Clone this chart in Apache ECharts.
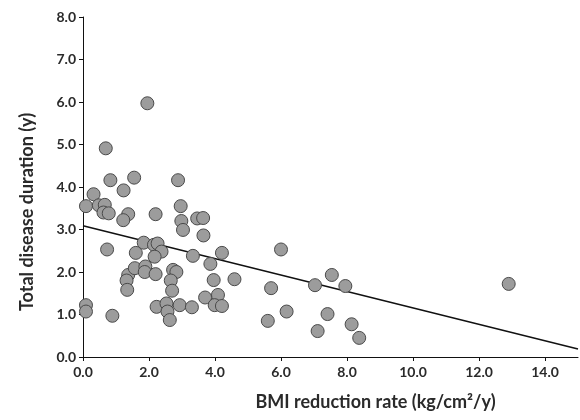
<!DOCTYPE html>
<html>
<head>
<meta charset="utf-8">
<script src="https://cdn.jsdelivr.net/npm/echarts@6/dist/echarts.min.js"></script>
<style>
html,body{margin:0;padding:0;background:#fff;}
#chart{width:580px;height:420px;}
</style>
</head>
<body>
<div id="chart"></div>
<script>
// BMI reduction rate (kg/cm²/y)
const bmiRate = [1.95,0.69,0.83,1.55,2.88,1.23,0.32,0.09,0.48,0.66,0.62,0.78,1.37,1.22,2.2,2.96,2.98,3.03,3.46,3.64,3.65,0.73,1.6,1.84,2.15,2.26,2.38,2.17,3.33,4.21,3.86,1.37,1.57,1.89,1.87,2.2,1.32,1.34,2.73,2.83,2.66,2.7,2.23,2.53,2.56,2.63,2.93,3.3,3.7,4.09,3.99,4.21,3.96,4.59,0.09,0.09,0.89,6.0,5.7,5.6,6.17,7.03,7.54,7.95,7.41,7.11,8.14,8.37,12.9];
// Total disease duration (y)
const duration = [5.97,4.91,4.16,4.22,4.16,3.92,3.83,3.55,3.57,3.58,3.4,3.38,3.36,3.22,3.36,3.55,3.2,2.99,3.26,3.27,2.86,2.53,2.45,2.69,2.64,2.67,2.48,2.36,2.38,2.45,2.19,1.93,2.09,2.13,2.0,1.95,1.8,1.58,2.05,2.0,1.8,1.56,1.18,1.26,1.07,0.87,1.22,1.17,1.4,1.46,1.22,1.2,1.81,1.83,1.22,1.07,0.97,2.53,1.62,0.85,1.07,1.69,1.93,1.67,1.01,0.61,0.77,0.45,1.72];
// Regression line end points
const trendX = [0, 15];
const trendY = [3.09, 0.19];
// Tick values
const xTicks = [0,2,4,6,8,10,12,14];
const yTicks = [0,1,2,3,4,5,6,7,8];

const points = bmiRate.map((x, i) => [x, duration[i]]);
const trend = trendX.map((x, i) => [x, trendY[i]]);

const chart = echarts.init(document.getElementById('chart'), null, {renderer: 'canvas'});
const labelFont = {color: '#2a2a2a', fontWeight: 'bold', fontSize: 14, fontFamily: 'Lato'};
chart.setOption({
  animation: false,
  backgroundColor: '#fff',
  grid: {left: 83, right: 2, top: 17, bottom: 63, containLabel: false},
  xAxis: {
    type: 'value', min: 0, max: 15, interval: 2,
    name: 'BMI reduction rate (kg/cm²/y)',
    nameLocation: 'middle', nameGap: 36,
    nameTextStyle: {color: '#2a2a2a', fontSize: 18, fontWeight: 'bold', fontFamily: 'Lato', padding: [0, 0, 0, 90]},
    axisLine: {lineStyle: {color: '#111', width: 1}},
    axisTick: {show: true, inside: false, length: 4, lineStyle: {color: '#111'}, customValues: xTicks},
    axisLabel: Object.assign({margin: 8, customValues: xTicks, formatter: v => v.toFixed(1)}, labelFont),
    splitLine: {show: false}
  },
  yAxis: {
    type: 'value', min: 0, max: 8, interval: 1,
    name: 'Total disease duration (y)',
    nameLocation: 'middle', nameGap: 47,
    nameTextStyle: {color: '#2a2a2a', fontSize: 18, fontWeight: 'bold', fontFamily: 'Lato', padding: [0, 50, 0, 0]},
    axisLine: {show: true, lineStyle: {color: '#111', width: 1}},
    axisTick: {show: true, inside: false, length: 4, lineStyle: {color: '#111'}, customValues: yTicks},
    axisLabel: Object.assign({margin: 7, customValues: yTicks, formatter: v => v.toFixed(1)}, labelFont),
    splitLine: {show: false}
  },
  series: [
    {
      type: 'line', data: trend, showSymbol: false, symbol: 'none',
      lineStyle: {color: '#111', width: 1.5}, z: 1, silent: true
    },
    {
      type: 'scatter', data: points, symbolSize: 13,
      itemStyle: {color: '#9c9c9c', borderColor: '#4a4a4a', borderWidth: 1, opacity: 1},
      z: 2
    }
  ]
});
</script>
</body>
</html>
